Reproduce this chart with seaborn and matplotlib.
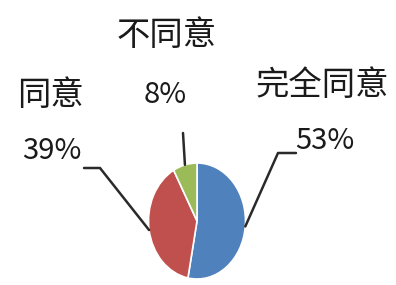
import numpy as np
import matplotlib
matplotlib.use("Agg")
import matplotlib.pyplot as plt
from matplotlib.lines import Line2D
import seaborn as sns

sns.set_theme(style="white")
plt.rcParams['font.family'] = ['Noto Sans CJK SC', 'DejaVu Sans']

categories = ["完全同意", "同意", "不同意"]
values = [53, 39, 8]
pct_labels = ["53%", "39%", "8%"]
colors = ["#4F81BD", "#C0504D", "#9BBB59"]

W, H = 396, 285
fig = plt.figure(figsize=(W / 100, H / 100), dpi=100)
fig.patch.set_facecolor("white")

# pie axes (elliptical pie as in the reference)
pl, pt, pw, ph = 148.5, 163, 97, 116
ax = fig.add_axes([pl / W, (H - pt - ph) / H, pw / W, ph / H])
wedges, _ = ax.pie(values, colors=colors, startangle=90, counterclock=False,
                   wedgeprops=dict(edgecolor="white", linewidth=1.2))
ax.set_xlim(-1, 1)
ax.set_ylim(-1, 1)
ax.set_aspect("auto")
ax.axis("off")

# label placement (image pixel coords, y down): name center, pct center, elbow
layout = {
    "完全同意": dict(name=(322, 85), pct=(325, 141), line=[(296, 153), (278, 153)]),
    "同意": dict(name=(50, 96), pct=(52, 151), line=[(84, 168), (100, 168)]),
    "不同意": dict(name=(167, 35), pct=(165, 95), line=[(183, 133)]),
}

def fig_px(x, y):
    return x, H - y

cum = np.cumsum([0] + values[:-1])
total = sum(values)
for cat, v, p, c0 in zip(categories, values, pct_labels, cum):
    L = layout[cat]
    fig.text(*[a / b for a, b in zip(fig_px(*L["name"]), (W, H))], cat,
             ha="center", va="center", fontsize=24, color="#1a1a1a")
    fig.text(*[a / b for a, b in zip(fig_px(*L["pct"]), (W, H))], p,
             ha="center", va="center", fontsize=21, color="#1a1a1a")
    mid = np.deg2rad(90 - (c0 + v / 2) / total * 360)
    ex, ey = ax.transData.transform((np.cos(mid), np.sin(mid)))
    pts = [fig_px(*q) for q in L["line"]] + [(ex, ey)]
    xs, ys = zip(*pts)
    fig.add_artist(Line2D(xs, ys, transform=None, color="#2a2a2a", linewidth=1.8))

fig.savefig("out.png", dpi=100, facecolor="white")
